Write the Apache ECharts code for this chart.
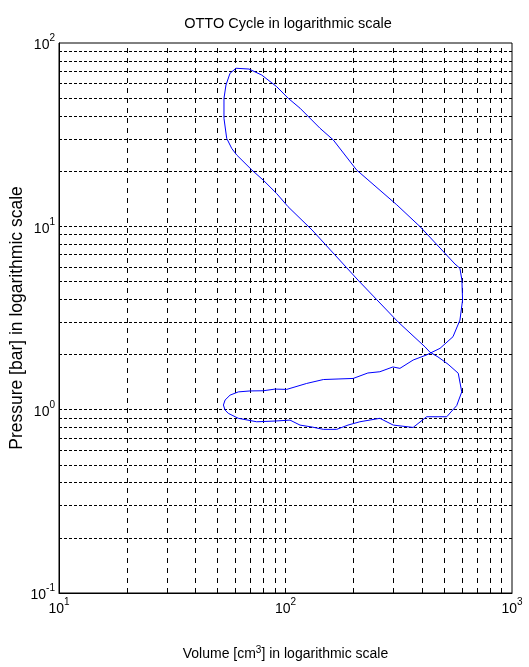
<!DOCTYPE html>
<html>
<head>
<meta charset="utf-8">
<script src="https://cdn.jsdelivr.net/npm/echarts@6/dist/echarts.min.js"></script>
<style>html,body{margin:0;padding:0;background:#fff;}#c{width:529px;height:667px;}</style>
</head>
<body>
<div id="c"></div>
<script>
// Curve (volume in cm3, pressure in bar), in cycle order
const volume = [
  600, 579, 522, 471, 434, 413, 314, 209, 131, 102.6, 91.4, 79.6, 71, 60.9, 57.9, 55.0, 53.5, 53.5, 54.6, 56.9, 60.5, 69.0,
  78.5, 91.4, 102.9, 115.9, 141.9, 162.5, 206, 310, 393, 560, 589, 601, 605, 589, 549, 481, 448,
  420, 366, 320, 298, 261, 231, 199, 170.6, 146.9, 124, 101.2, 89.9, 79.8, 69.7, 61.9, 56.9, 54.1, 53.2, 54.1, 55.9,
  61.9, 74.6, 89.9, 104.7, 115.9, 131, 146.9, 168.3, 188.8, 213, 261, 299, 366, 420, 515, 570, 600
];
const pressure = [
  1.25, 1.58, 1.77, 1.94, 2.06, 2.20, 3.01, 5.09, 9.55, 12.8, 15.1, 17.9, 20.3, 24.5, 26.6, 30.2, 38.8, 49.9, 59.0, 68.4, 72.8, 72.1,
  66.9, 57.8, 49.9, 44.1, 34.3, 29.6, 20.3, 13.1, 9.95, 6.23, 5.90, 5.09, 3.96, 3.08, 2.50, 2.16, 2.07,
  1.99, 1.865, 1.68, 1.71, 1.61, 1.585, 1.48, 1.47, 1.46, 1.39, 1.29, 1.295, 1.268, 1.265, 1.25, 1.20, 1.128, 1.06, 0.995, 0.955,
  0.897, 0.859, 0.867, 0.877, 0.824, 0.804, 0.781, 0.781, 0.824, 0.859, 0.897, 0.824, 0.80, 0.915, 0.915, 1.053, 1.25
];
// Grid line positions (log grid, 2..9 in each decade plus decades)
const xGridValues = [20, 30, 40, 50, 60, 70, 80, 90, 100, 200, 300, 400, 500, 600, 700, 800, 900];
const yGridValues = [0.2, 0.3, 0.4, 0.5, 0.6, 0.7, 0.8, 0.9, 1, 2, 3, 4, 5, 6, 7, 8, 9, 10, 20, 30, 40, 50, 60, 70, 80, 90];
const xRange = [10, 1000];
const yRange = [0.1, 100];
const titleText = 'OTTO Cycle in logarithmic scale';
const xName = 'Volume [cm{s|3}] in logarithmic scale';
const yName = 'Pressure [bar] in logarithmic scale';

const F = "'Liberation Sans',Arial,sans-serif";
const tickFmt = v => '{b|10}{s|' + Math.round(Math.log10(v)) + '}';
const tickRich = {
  b: {fontSize: 14, fontFamily: F, color: '#000', lineHeight: 19, verticalAlign: 'bottom'},
  s: {fontSize: 10, fontFamily: F, color: '#000', lineHeight: 10, verticalAlign: 'top'}
};

const chart = echarts.init(document.getElementById('c'), null, {renderer: 'canvas'});
chart.setOption({
  animation: false,
  backgroundColor: '#fff',
  title: {
    text: titleText, left: 283, textAlign: 'center', top: 11,
    textStyle: {fontSize: 14.5, fontWeight: 'normal', fontFamily: F, color: '#000'}
  },
  grid: {left: 59, right: 17, top: 43, bottom: 74, outerBoundsMode: 'none', containLabel: false,
    show: true, borderColor: '#000', borderWidth: 1, backgroundColor: 'transparent'},
  xAxis: {
    type: 'log', logBase: 10, min: xRange[0], max: xRange[1],
    name: xName, nameLocation: 'middle', nameGap: 52, nameMoveOverlap: false,
    nameTextStyle: {fontSize: 14, fontFamily: F, color: '#000', lineHeight: 19,
      rich: {s: {fontSize: 10, fontFamily: F, color: '#000', verticalAlign: 'top', lineHeight: 10}}},
    axisLine: {show: true, lineStyle: {color: '#000', width: 1}},
    axisTick: {show: false},
    splitLine: {show: false},
    axisLabel: {formatter: tickFmt, rich: tickRich, margin: 4, color: '#000'}
  },
  yAxis: {
    type: 'log', logBase: 10, min: yRange[0], max: yRange[1],
    name: yName, nameLocation: 'middle', nameGap: 33, nameMoveOverlap: false,
    nameTextStyle: {fontSize: 17.5, fontFamily: F, color: '#000'},
    axisLine: {show: true, lineStyle: {color: '#000', width: 1}},
    axisTick: {show: false},
    splitLine: {show: false},
    axisLabel: {formatter: tickFmt, rich: tickRich, margin: 4, color: '#000'}
  },
  series: [
    {
      type: 'line', data: [], silent: true,
      markLine: {
        silent: true, animation: false, symbol: ['none', 'none'],
        label: {show: false},
        emphasis: {disabled: true},
        lineStyle: {color: '#000', width: 1, type: [3, 2]},
        data: xGridValues.map(v => ({xAxis: v, lineStyle: {color: '#000', width: 1, type: [5, 5]}}))
          .concat(yGridValues.map(v => ({yAxis: v, lineStyle: {color: '#000', width: 1, type: [3, 2]}})))
      }
    },
    {
      type: 'line', z: 5,
      data: volume.map((v, i) => [v, pressure[i]]),
      showSymbol: false, smooth: false,
      lineStyle: {color: '#0000ff', width: 1},
      emphasis: {disabled: true}
    }
  ]
});
</script>
</body>
</html>
